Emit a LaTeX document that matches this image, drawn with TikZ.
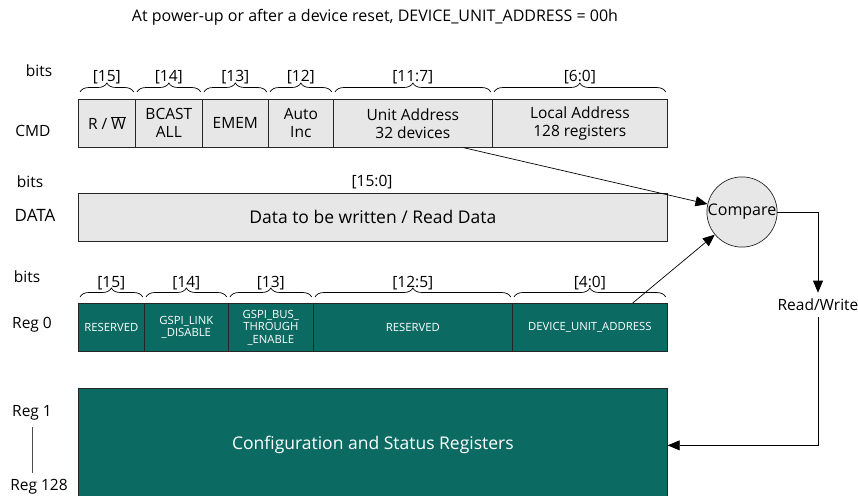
\documentclass[tikz,border=0pt]{standalone}
\usepackage{fontspec}
\setmainfont{Open Sans}
\usetikzlibrary{arrows.meta,decorations.pathreplacing}
\definecolor{fieldgray}{RGB}{231,231,231}
\definecolor{regteal}{RGB}{11,107,99}

\begin{document}
\begin{tikzpicture}[x=1pt,y=-1pt, line width=0.7pt,
        field/.style={draw=black!85, fill=fieldgray, minimum height=48pt, inner sep=0pt, align=center, anchor=north west, font=\fontsize{15.5}{18}\selectfont},
        regfield/.style={draw=black!85, fill=regteal, text=white, minimum height=48pt, inner sep=0pt, align=center, anchor=north west, font=\fontsize{11.3}{12.5}\selectfont},
        lbl/.style={font=\fontsize{15.5}{18}\selectfont},
        bitbrace/.style={decorate, decoration={brace, amplitude=9pt}},
        arr/.style={-{Stealth[length=12pt,width=10pt,inset=0pt]}}]
    \useasboundingbox (0,0) rectangle (858,495);
    \node[font=\fontsize{16}{19}\selectfont] (title) at (375,17) {At power-up or after a device reset, DEVICE\_UNIT\_ADDRESS = 00h};

    % command word
    \node[lbl] (bitsa) at (39,71) {bits};
    \node[lbl] (cmdlbl) at (33,131) {CMD};
    \node[field, minimum width=57pt] (rnw) at (78,99) {R / $\overline{\hbox{W}}$};
    \node[field, minimum width=67pt] (bcast) at (135,99) {BCAST\\ALL};
    \node[field, minimum width=66pt] (emem) at (202,99) {EMEM};
    \node[field, minimum width=65pt] (autoinc) at (268,99) {Auto\\Inc};
    \node[field, minimum width=159pt] (unitaddr) at (333,99) {Unit Address\\32 devices};
    \node[field, minimum width=175pt] (localaddr) at (492,99) {Local Address\\128 registers};
    \draw[bitbrace] ([xshift=2pt,yshift=7pt]rnw.north west) -- ([xshift=-2pt,yshift=7pt]rnw.north east) node[midway, above=4pt, lbl] {[15]};
    \draw[bitbrace] ([xshift=2pt,yshift=7pt]bcast.north west) -- ([xshift=-2pt,yshift=7pt]bcast.north east) node[midway, above=4pt, lbl] {[14]};
    \draw[bitbrace] ([xshift=2pt,yshift=7pt]emem.north west) -- ([xshift=-2pt,yshift=7pt]emem.north east) node[midway, above=4pt, lbl] {[13]};
    \draw[bitbrace] ([xshift=2pt,yshift=7pt]autoinc.north west) -- ([xshift=-2pt,yshift=7pt]autoinc.north east) node[midway, above=4pt, lbl] {[12]};
    \draw[bitbrace] ([xshift=2pt,yshift=7pt]unitaddr.north west) -- ([xshift=-2pt,yshift=7pt]unitaddr.north east) node[midway, above=4pt, lbl] {[11:7]};
    \draw[bitbrace] ([xshift=2pt,yshift=7pt]localaddr.north west) -- ([xshift=-2pt,yshift=7pt]localaddr.north east) node[midway, above=4pt, lbl] {[6:0]};

    % data word
    \node[lbl] (bitsb) at (30,182) {bits};
    \node[lbl, font=\fontsize{17}{20}\selectfont] (datalbl) at (35,215) {DATA};
    \node[field, minimum width=589pt, font=\fontsize{17.5}{20}\selectfont] (data) at (78,193) {Data to be written / Read Data};
    \node[lbl] (databits) at (372,182) {[15:0]};

    % register 0
    \node[lbl] (bitsc) at (27,277) {bits};
    \node[lbl] (reg0lbl) at (32,325) {Reg 0};
    \node[regfield, minimum width=66pt] (resvd) at (78,303) {RESERVED};
    \node[regfield, minimum width=84pt] (linkdis) at (144,303) {GSPI\_LINK\\\_DISABLE};
    \node[regfield, minimum width=85pt] (busthru) at (228,303) {GSPI\_BUS\_\\THROUGH\\\_ENABLE};
    \node[regfield, minimum width=199pt] (resvdb) at (313,303) {RESERVED};
    \node[regfield, minimum width=155pt] (devaddr) at (512,303) {DEVICE\_UNIT\_ADDRESS};
    \draw[bitbrace] ([xshift=2pt,yshift=6pt]resvd.north west) -- ([xshift=-2pt,yshift=6pt]resvd.north east) node[midway, above=3pt, lbl] {[15]};
    \draw[bitbrace] ([xshift=2pt,yshift=6pt]linkdis.north west) -- ([xshift=-2pt,yshift=6pt]linkdis.north east) node[midway, above=3pt, lbl] {[14]};
    \draw[bitbrace] ([xshift=2pt,yshift=6pt]busthru.north west) -- ([xshift=-2pt,yshift=6pt]busthru.north east) node[midway, above=3pt, lbl] {[13]};
    \draw[bitbrace] ([xshift=2pt,yshift=6pt]resvdb.north west) -- ([xshift=-2pt,yshift=6pt]resvdb.north east) node[midway, above=3pt, lbl] {[12:5]};
    \draw[bitbrace] ([xshift=2pt,yshift=6pt]devaddr.north west) -- ([xshift=-2pt,yshift=6pt]devaddr.north east) node[midway, above=3pt, lbl] {[4:0]};

    % registers 1 to 128
    \node[lbl] (reg1lbl) at (32,413) {Reg 1};
    \node[lbl] (reg128lbl) at (39,487) {Reg 128};
    \draw[black!70] ([yshift=-3pt]reg1lbl.south) -- ([yshift=3pt]reg1lbl.south |- reg128lbl.north);
    \node[regfield, minimum width=589pt, minimum height=114pt, font=\fontsize{17.5}{20}\selectfont] (cfg) at (78,388) {Configuration and Status Registers};

    % compare logic
    \node[circle, draw=black!85, fill=fieldgray, minimum size=70pt, inner sep=0pt, font=\fontsize{16}{19}\selectfont] (cmp) at (742,212) {Compare};
    \node[lbl, inner sep=6pt] (rwsel) at (818,305) {Read/Write};
    \draw[arr] ([xshift=-29pt]unitaddr.south east) -- (cmp);
    \draw[arr] ([xshift=-35pt]devaddr.north east) -- (cmp);
    \draw[arr] (cmp.east) -| (rwsel.north);
    \draw[arr] (rwsel.south) |- (cfg.east);
\end{tikzpicture}
\end{document}
